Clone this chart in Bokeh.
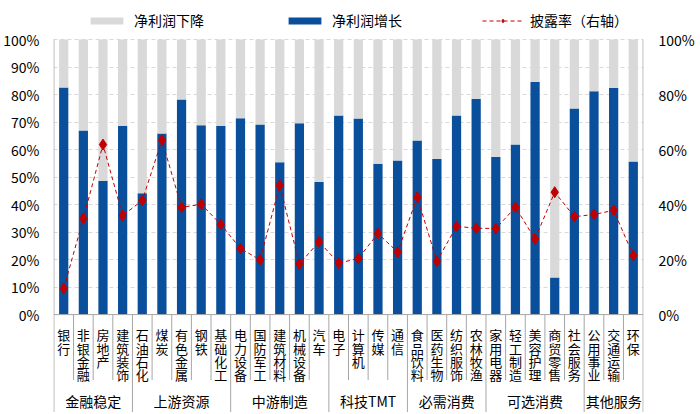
import numpy as np
from bokeh.plotting import figure
from bokeh.models import (Range1d, LinearAxis, FixedTicker, PrintfTickFormatter,
                          Legend, LegendItem, ColumnDataSource)
from bokeh.core.properties import value
from bokeh.embed import file_html
from bokeh.resources import INLINE

categories = ["银行", "非银金融", "房地产", "建筑装饰", "石油石化", "煤炭", "有色金属", "钢铁",
              "基础化工", "电力设备", "国防军工", "建筑材料", "机械设备", "汽车", "电子", "计算机",
              "传媒", "通信", "食品饮料", "医药生物", "纺织服饰", "农林牧渔", "家用电器", "轻工制造",
              "美容护理", "商贸零售", "社会服务", "公用事业", "交通运输", "环保"]
groups = ["金融稳定", "上游资源", "中游制造", "科技TMT", "必需消费", "可选消费", "其他服务"]
group_sizes = [4, 5, 5, 4, 4, 5, 3]
growth = [82.6, 66.9, 48.7, 68.7, 44.1, 65.8, 78.2, 68.8, 68.7, 71.4, 69.1, 55.4, 69.6, 48.2, 72.4,
          71.3, 54.8, 56.0, 63.3, 56.6, 72.4, 78.4, 57.3, 61.8, 84.6, 13.5, 74.9, 81.2, 82.4, 55.7]
rate = [9.5, 34.9, 61.8, 36.0, 41.5, 63.4, 39.0, 40.1, 32.8, 24.0, 19.9, 47.0, 18.4, 26.5, 18.7,
        20.4, 29.5, 22.7, 42.7, 19.4, 32.1, 31.4, 31.3, 39.0, 27.5, 44.5, 35.6, 36.4, 37.9, 21.5]
left_ticks = [0, 10, 20, 30, 40, 50, 60, 70, 80, 90, 100]
right_ticks = [0, 20, 40, 60, 80, 100]

FONT = "Noto Sans CJK SC"
BLUE = "#0a4f9b"
GRAY = "#d9d9d9"
RED = "#c00000"
AXIS = "#a6a6a6"
TXT = "#000000"

n = len(categories)
xs = list(range(n))
decline = [round(100 - g, 1) for g in growth]
W, H = 697, 412
YMIN, YMAX = -35.6, 114.2

src = ColumnDataSource(dict(x=xs, growth=growth, decline=decline, rate=rate,
                            label=["\n".join(c) for c in categories]))

p = figure(width=W, height=H, x_range=Range1d(-0.52, n - 0.48), y_range=Range1d(YMIN, YMAX),
           output_backend="svg", toolbar_location=None,
           x_axis_location=None, y_axis_location=None,
           min_border_left=51, min_border_right=51, min_border_top=0, min_border_bottom=0)
p.extra_y_ranges = {"rate": Range1d(YMIN, YMAX)}
p.outline_line_color = None
p.xgrid.visible = False
p.ygrid.ticker = FixedTicker(ticks=left_ticks[1:])
p.ygrid.grid_line_color = GRAY
p.ygrid.grid_line_dash = "4 3"

bars = p.vbar_stack(["growth", "decline"], x="x", width=0.47, source=src,
                    color=[BLUE, GRAY], line_color=None)
line = p.line("x", "rate", source=src, line_color=RED, line_dash="4 3", line_width=1,
              y_range_name="rate")
pts = p.scatter("x", "rate", source=src, marker="diamond", size=11, color=RED,
                y_range_name="rate")

# zero line
p.segment(x0=[-0.5], y0=[0.0], x1=[n - 0.5], y1=[0.0], line_color=AXIS, line_width=1)

# category separators, group separators and the two axis lines
bounds = [int(b) for b in np.cumsum(group_sizes)[:-1]]
sx, sy0, sy1 = [], [], []
for k in range(0, n + 1):
    sx.append(k - 0.5)
    if k == 0 or k == n:
        sy0.append(100.0)
        sy1.append(YMIN)
    else:
        sy0.append(0.0)
        sy1.append(YMIN if k in bounds else -23.8)
p.segment(x0=sx, y0=sy0, x1=sx, y1=sy1, line_color=AXIS, line_width=1)

# category labels (one character per line)
p.text(x="x", y=-3.9, text="label", source=src, text_font=value(FONT), text_font_size="13px",
       text_align="center", text_baseline="top", text_line_height=0.7, text_color=TXT)

# group labels
starts = [0] + bounds
gx = [s + (g - 1) / 2 for s, g in zip(starts, group_sizes)]
gsrc = ColumnDataSource(dict(x=gx, y=[-31.3] * len(gx), t=groups))
p.text(x="x", y="y", text="t", source=gsrc, text_font=value(FONT), text_font_size="14px",
       text_align="center", text_baseline="middle", text_color=TXT)

for side, rng, ticks, standoff in (("left", "default", left_ticks, 14),
                                   ("right", "rate", right_ticks, 15)):
    ax = LinearAxis(y_range_name=rng, ticker=FixedTicker(ticks=ticks),
                    formatter=PrintfTickFormatter(format="%d%%"))
    ax.axis_line_color = None
    ax.major_tick_line_color = None
    ax.minor_tick_line_color = None
    ax.major_tick_out = 0
    ax.major_tick_in = 0
    ax.major_label_standoff = standoff
    ax.major_label_text_font = FONT
    ax.major_label_text_font_size = "14px"
    ax.major_label_text_color = TXT
    p.add_layout(ax, side)

legend = Legend(items=[LegendItem(label="净利润下降", renderers=[bars[1]]),
                       LegendItem(label="净利润增长", renderers=[bars[0]]),
                       LegendItem(label="披露率（右轴）", renderers=[line, pts])],
                orientation="horizontal", location=(33, H - 30))
legend.glyph_width = 41
legend.glyph_height = 9
legend.label_width = 150
legend.label_standoff = 7
legend.spacing = 0
legend.padding = 0
legend.margin = 0
legend.border_line_color = None
legend.background_fill_alpha = 0
legend.label_text_font = FONT
legend.label_text_font_size = "14px"
legend.label_text_color = TXT
p.add_layout(legend, "center")

open("out.html", "w").write(file_html(p, INLINE))
